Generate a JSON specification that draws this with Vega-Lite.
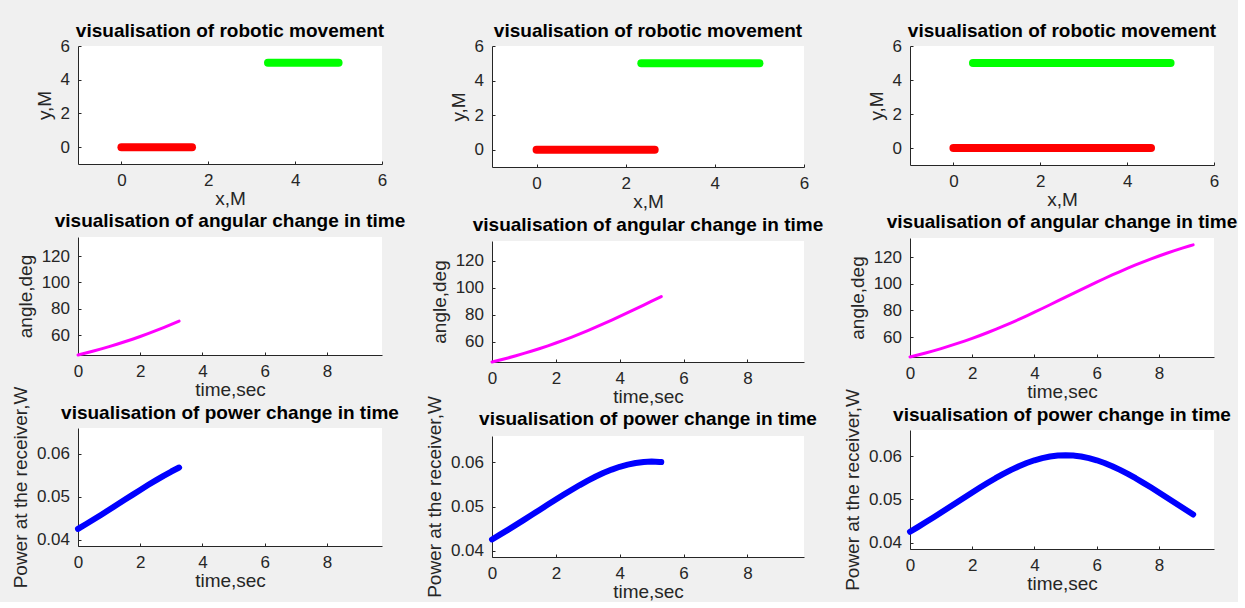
{
  "$schema": "https://vega.github.io/schema/vega-lite/v6.json",
  "background": "#f0f0f0",
  "padding": {"left": 11, "top": 22, "right": 0, "bottom": 0},
  "config": {
    "font": "Liberation Sans",
    "view": {"fill": "white", "stroke": null},
    "axis": {"grid": false, "domainColor": "#262626", "tickColor": "#262626", "labelColor": "#262626", "titleColor": "#262626", "labelFontSize": 17, "titleFontSize": 19, "titleFontWeight": "normal", "tickSize": -3, "labelPadding": 11.5, "labelFlush": false, "labelFont": "Liberation Sans", "titleFont": "Liberation Sans"},
    "axisX": {"titlePadding": 1},
    "axisY": {"titlePadding": 6},
    "title": {"fontSize": 19, "fontWeight": "bold", "color": "#000000", "frame": "group", "font": "Liberation Sans", "offset": 6},
    "line": {"strokeCap": "round", "strokeJoin": "round"}
  },
  "datasets": {
    "move": [
      {"panel": 1, "obj": "robot", "x": 0, "y": 0},
      {"panel": 1, "obj": "robot", "x": 1.625, "y": 0},
      {"panel": 1, "obj": "receiver", "x": 3.375, "y": 5},
      {"panel": 1, "obj": "receiver", "x": 5, "y": 5},
      {"panel": 2, "obj": "robot", "x": 0, "y": 0},
      {"panel": 2, "obj": "robot", "x": 2.65, "y": 0},
      {"panel": 2, "obj": "receiver", "x": 2.35, "y": 5},
      {"panel": 2, "obj": "receiver", "x": 5, "y": 5},
      {"panel": 3, "obj": "robot", "x": 0, "y": 0},
      {"panel": 3, "obj": "robot", "x": 4.55, "y": 0},
      {"panel": 3, "obj": "receiver", "x": 0.45, "y": 5},
      {"panel": 3, "obj": "receiver", "x": 5, "y": 5}
    ],
    "curve": [
      {"t": 0, "angle": 45.0, "power": 0.04257},
      {"t": 0.25, "angle": 46.47, "power": 0.04365},
      {"t": 0.5, "angle": 48.01, "power": 0.04475},
      {"t": 0.75, "angle": 49.64, "power": 0.04587},
      {"t": 1, "angle": 51.34, "power": 0.04701},
      {"t": 1.25, "angle": 53.13, "power": 0.04816},
      {"t": 1.5, "angle": 55.01, "power": 0.04932},
      {"t": 1.75, "angle": 56.98, "power": 0.05047},
      {"t": 2, "angle": 59.04, "power": 0.05162},
      {"t": 2.25, "angle": 61.19, "power": 0.05275},
      {"t": 2.5, "angle": 63.43, "power": 0.05384},
      {"t": 2.75, "angle": 65.77, "power": 0.0549},
      {"t": 3, "angle": 68.2, "power": 0.05589},
      {"t": 3.25, "angle": 70.71, "power": 0.05682},
      {"t": 3.5, "angle": 73.3, "power": 0.05766},
      {"t": 3.75, "angle": 75.96, "power": 0.0584},
      {"t": 4, "angle": 78.69, "power": 0.05903},
      {"t": 4.25, "angle": 81.47, "power": 0.05953},
      {"t": 4.5, "angle": 84.29, "power": 0.0599},
      {"t": 4.75, "angle": 87.14, "power": 0.06013},
      {"t": 5, "angle": 90.0, "power": 0.0602},
      {"t": 5.25, "angle": 92.86, "power": 0.06013},
      {"t": 5.3, "angle": 93.43, "power": 0.06009},
      {"t": 5.5, "angle": 95.71, "power": 0.0599},
      {"t": 5.75, "angle": 98.53, "power": 0.05953},
      {"t": 6, "angle": 101.31, "power": 0.05903},
      {"t": 6.25, "angle": 104.04, "power": 0.0584},
      {"t": 6.5, "angle": 106.7, "power": 0.05766},
      {"t": 6.75, "angle": 109.29, "power": 0.05682},
      {"t": 7, "angle": 111.8, "power": 0.05589},
      {"t": 7.25, "angle": 114.23, "power": 0.0549},
      {"t": 7.5, "angle": 116.57, "power": 0.05384},
      {"t": 7.75, "angle": 118.81, "power": 0.05275},
      {"t": 8, "angle": 120.96, "power": 0.05162},
      {"t": 8.25, "angle": 123.02, "power": 0.05047},
      {"t": 8.5, "angle": 124.99, "power": 0.04932},
      {"t": 8.75, "angle": 126.87, "power": 0.04816},
      {"t": 9, "angle": 128.66, "power": 0.04701},
      {"t": 9.1, "angle": 129.35, "power": 0.04655}
    ]
  },
  "spacing": 19,
  "hconcat": [
    {
      "bounds": "flush",
      "spacing": 73,
      "vconcat": [
        {
          "width": 304, "height": 118,
          "title": {"text": "visualisation of robotic movement", "offset": -4},
          "data": {"name": "move"},
          "transform": [{"filter": "datum.panel == 1"}],
          "mark": {"type": "line", "strokeWidth": 8},
          "encoding": {
            "x": {"field": "x", "type": "quantitative", "scale": {"domain": [-1, 6], "nice": false}, "axis": {"values": [0, 2, 4, 6], "format": "d", "title": "x,M"}},
            "y": {"field": "y", "type": "quantitative", "scale": {"domain": [-1, 6], "nice": false}, "axis": {"values": [0, 2, 4, 6], "format": "d", "title": "y,M"}},
            "color": {"field": "obj", "type": "nominal", "scale": {"domain": ["robot", "receiver"], "range": ["#ff0000", "#00ff00"]}, "legend": null}
          }
        },
        {
          "width": 304, "height": 118,
          "title": {"text": "visualisation of angular change in time"},
          "data": {"name": "curve"},
          "transform": [{"filter": "datum.t <= 3.25"}],
          "mark": {"type": "line", "strokeWidth": 3, "color": "#ff00ff"},
          "encoding": {
            "x": {"field": "t", "type": "quantitative", "scale": {"domain": [0, 9.77], "nice": false}, "axis": {"values": [0, 2, 4, 6, 8], "format": "d", "title": "time,sec"}},
            "y": {"field": "angle", "type": "quantitative", "scale": {"domain": [45, 134.5], "nice": false}, "axis": {"values": [60, 80, 100, 120], "format": "d", "title": "angle,deg"}}
          }
        },
        {
          "width": 304, "height": 118,
          "title": {"text": "visualisation of power change in time", "offset": -36.5},
          "data": {"name": "curve"},
          "transform": [{"filter": "datum.t <= 3.25"}],
          "mark": {"type": "line", "strokeWidth": 6, "color": "#0000ff"},
          "encoding": {
            "x": {"field": "t", "type": "quantitative", "scale": {"domain": [0, 9.77], "nice": false}, "axis": {"values": [0, 2, 4, 6, 8], "format": "d", "title": "time,sec"}},
            "y": {"field": "power", "type": "quantitative", "scale": {"domain": [0.0386, 0.066], "nice": false, "zero": false}, "axis": {"values": [0.04, 0.05, 0.06], "format": ".2f", "title": "Power at the receiver,W"}}
          }
        }
      ]
    },
    {
      "bounds": "flush",
      "spacing": 74,
      "vconcat": [
        {
          "width": 312, "height": 121,
          "title": {"text": "visualisation of robotic movement", "offset": -4},
          "data": {"name": "move"},
          "transform": [{"filter": "datum.panel == 2"}],
          "mark": {"type": "line", "strokeWidth": 8},
          "encoding": {
            "x": {"field": "x", "type": "quantitative", "scale": {"domain": [-1, 6], "nice": false}, "axis": {"values": [0, 2, 4, 6], "format": "d", "title": "x,M"}},
            "y": {"field": "y", "type": "quantitative", "scale": {"domain": [-1, 6], "nice": false}, "axis": {"values": [0, 2, 4, 6], "format": "d", "title": "y,M"}},
            "color": {"field": "obj", "type": "nominal", "scale": {"domain": ["robot", "receiver"], "range": ["#ff0000", "#00ff00"]}, "legend": null}
          }
        },
        {
          "width": 312, "height": 121,
          "title": {"text": "visualisation of angular change in time"},
          "data": {"name": "curve"},
          "transform": [{"filter": "datum.t <= 5.3"}],
          "mark": {"type": "line", "strokeWidth": 3, "color": "#ff00ff"},
          "encoding": {
            "x": {"field": "t", "type": "quantitative", "scale": {"domain": [0, 9.77], "nice": false}, "axis": {"values": [0, 2, 4, 6, 8], "format": "d", "title": "time,sec"}},
            "y": {"field": "angle", "type": "quantitative", "scale": {"domain": [45, 134.5], "nice": false}, "axis": {"values": [60, 80, 100, 120], "format": "d", "title": "angle,deg"}}
          }
        },
        {
          "width": 312, "height": 121,
          "title": {"text": "visualisation of power change in time", "offset": -33},
          "data": {"name": "curve"},
          "transform": [{"filter": "datum.t <= 5.3"}],
          "mark": {"type": "line", "strokeWidth": 6, "color": "#0000ff"},
          "encoding": {
            "x": {"field": "t", "type": "quantitative", "scale": {"domain": [0, 9.77], "nice": false}, "axis": {"values": [0, 2, 4, 6, 8], "format": "d", "title": "time,sec"}},
            "y": {"field": "power", "type": "quantitative", "scale": {"domain": [0.0386, 0.066], "nice": false, "zero": false}, "axis": {"values": [0.04, 0.05, 0.06], "format": ".2f", "title": "Power at the receiver,W"}}
          }
        }
      ]
    },
    {
      "bounds": "flush",
      "spacing": 73,
      "vconcat": [
        {
          "width": 304, "height": 119,
          "title": {"text": "visualisation of robotic movement", "offset": -4},
          "data": {"name": "move"},
          "transform": [{"filter": "datum.panel == 3"}],
          "mark": {"type": "line", "strokeWidth": 8},
          "encoding": {
            "x": {"field": "x", "type": "quantitative", "scale": {"domain": [-1, 6], "nice": false}, "axis": {"values": [0, 2, 4, 6], "format": "d", "title": "x,M"}},
            "y": {"field": "y", "type": "quantitative", "scale": {"domain": [-1, 6], "nice": false}, "axis": {"values": [0, 2, 4, 6], "format": "d", "title": "y,M"}},
            "color": {"field": "obj", "type": "nominal", "scale": {"domain": ["robot", "receiver"], "range": ["#ff0000", "#00ff00"]}, "legend": null}
          }
        },
        {
          "width": 304, "height": 119,
          "title": {"text": "visualisation of angular change in time"},
          "data": {"name": "curve"},
          "mark": {"type": "line", "strokeWidth": 3, "color": "#ff00ff"},
          "encoding": {
            "x": {"field": "t", "type": "quantitative", "scale": {"domain": [0, 9.77], "nice": false}, "axis": {"values": [0, 2, 4, 6, 8], "format": "d", "title": "time,sec"}},
            "y": {"field": "angle", "type": "quantitative", "scale": {"domain": [45, 134.5], "nice": false}, "axis": {"values": [60, 80, 100, 120], "format": "d", "title": "angle,deg"}}
          }
        },
        {
          "width": 304, "height": 119,
          "title": {"text": "visualisation of power change in time", "offset": -36},
          "data": {"name": "curve"},
          "mark": {"type": "line", "strokeWidth": 6, "color": "#0000ff"},
          "encoding": {
            "x": {"field": "t", "type": "quantitative", "scale": {"domain": [0, 9.77], "nice": false}, "axis": {"values": [0, 2, 4, 6, 8], "format": "d", "title": "time,sec"}},
            "y": {"field": "power", "type": "quantitative", "scale": {"domain": [0.0386, 0.066], "nice": false, "zero": false}, "axis": {"values": [0.04, 0.05, 0.06], "format": ".2f", "title": "Power at the receiver,W"}}
          }
        }
      ]
    }
  ]
}
